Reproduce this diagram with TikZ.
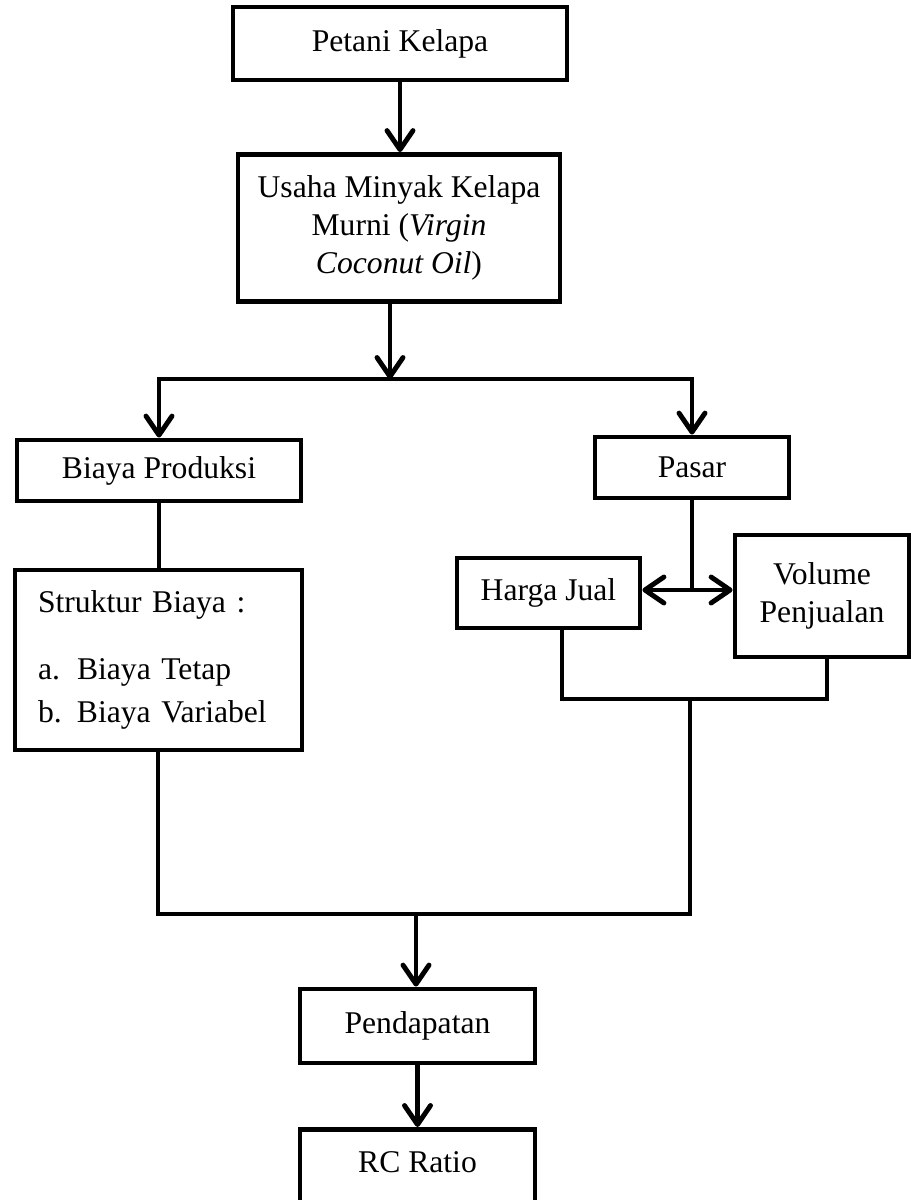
\documentclass[tikz,border=0pt]{standalone}
\usepackage{fontspec}
\setmainfont{Liberation Serif}
\usetikzlibrary{arrows.meta,positioning}

\tikzset{
  box/.style={shape=rectangle,draw=black,line width=2.8pt,font=\fontsize{18}{21.5}\selectfont},
  flow/.style={line width=2.8pt},
  arr/.style={flow,-{Straight Barb[length=0.38cm,width=0.52cm,round]}},
}

\begin{document}
\begin{tikzpicture}[x=0.02cm,y=-0.02cm]
\useasboundingbox (0,0) rectangle (910,1200);

%draw top nodes
\node [box, minimum width = 6.68cm, minimum height=1.46cm] at (400,43.5) (petani) {Petani Kelapa};
\node [box, minimum width = 6.44cm, minimum height=2.94cm, align=center] at (399,228) (usaha) {Usaha Minyak Kelapa\\Murni (\textit{Virgin}\\\textit{Coconut Oil})};

%draw left branch
\node [box, minimum width = 5.68cm, minimum height=1.22cm] at (159,470.5) (biaya) {Biaya Produksi};
\node [box, minimum width = 5.74cm, minimum height=3.6cm, inner xsep=0.46cm, text width=4.82cm, align=left,
       font=\fontsize{18}{24.5}\selectfont] at (158.5,660) (struktur)
  {Struktur Biaya :\\[14pt]\makebox[0.78cm][l]{a.}Biaya Tetap\\\makebox[0.78cm][l]{b.}Biaya Variabel};

%draw right branch
\node [box, minimum width = 3.88cm, minimum height=1.22cm] at (692,467.5) (pasar) {Pasar};
\node [box, minimum width = 3.66cm, minimum height=1.4cm] at (548.5,593) (harga) {Harga Jual};
\node [box, minimum width = 3.48cm, minimum height=2.44cm, align=center] at (822,596) (volume) {Volume\\Penjualan};

%draw output nodes
\node [box, minimum width = 4.7cm, minimum height=1.48cm] at (417.5,1026) (pendapatan) {Pendapatan};
\node [box, minimum width = 4.7cm, anchor=north, inner ysep=0.16cm, text height=0.7cm, text depth=0.6cm] at (417.5,1127) (rc) {RC Ratio};

%junction points
\coordinate (split) at (390,379);
\coordinate (hv) at (692,590);
\coordinate (h_foot) at (562,699);
\coordinate (hv_join) at (690,699);
\coordinate (v_foot) at (827,699);
\coordinate (m_right) at (690,914);
\coordinate (m_mid) at (416,914);
\coordinate (m_left) at (158,914);

%top arrows
\draw [arr] (petani.south) -- (petani.south |- usaha.north);
\draw [arr] (usaha.south -| split) -- (split);
\draw [arr] (split) -| (biaya.north);
\draw [arr] (split) -| (pasar.north);

%left column
\draw [flow] (biaya.south) -- (biaya.south |- struktur.north);

%right column
\draw [flow] (pasar.south) -- (hv);
\draw [arr] (hv) -- (hv -| harga.east);
\draw [arr] (hv) -- (hv -| volume.west);
\draw [flow] (harga.south -| h_foot) -- (h_foot) -- (v_foot) -- (volume.south -| v_foot);

%merge to pendapatan
\draw [flow] (hv_join) -- (m_right) -- (m_left) -- (struktur.south -| m_left);
\draw [arr] (m_mid) -- (m_mid |- pendapatan.north);
\draw [arr] (pendapatan.south) -- (pendapatan.south |- rc.north);

\end{tikzpicture}
\end{document}
